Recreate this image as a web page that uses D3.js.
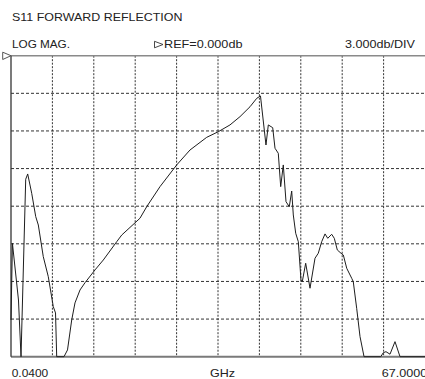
<!DOCTYPE html>
<html>
<head>
<meta charset="utf-8">
<script src="https://cdn.jsdelivr.net/npm/d3@7"></script>
<style>
  html, body { margin: 0; padding: 0; background: #fff; }
  svg { display: block; }
  text { font-family: "Liberation Sans", Arial, sans-serif; fill: #222; }
</style>
</head>
<body>
<svg id="chart" width="425" height="379"></svg>
<script>
// S11 sweep: frequency (GHz) and log magnitude (dB)
const freqGHz = [0.04, 0.27, 1.25, 1.66, 2.42, 2.74, 3.39, 4.04, 4.46, 5.26, 6.07, 6.88, 7.24, 7.43,
  8.61, 9.18, 9.86, 10.39, 11.20, 12.01, 13.63, 14.97, 17.14, 17.95, 20.90, 21.99, 24.14, 26.84,
  28.99, 31.69, 33.57, 35.46, 37.08, 38.70, 39.78, 40.39, 41.28, 41.66, 42.37, 42.74, 43.27, 43.66,
  44.08, 44.52, 45.05, 45.44, 45.70, 46.09, 46.51, 46.94, 47.15, 47.70, 48.40, 49.21, 49.74, 50.29,
  50.83, 51.27, 51.91, 52.33, 52.82, 53.41, 53.79, 54.34, 55.15, 55.40, 55.95, 56.49, 57.14, 59.84,
  60.26, 60.69, 61.34, 62.15, 62.96, 67.00];
const s11dB = [-21.07, -14.96, -19.48, -24.00, -9.85, -9.43, -10.97, -12.83, -13.50, -16.02, -17.62, -20.01, -20.51, -24.00,
  -24.00, -23.46, -21.07, -19.71, -18.68, -18.10, -17.08, -16.29, -14.83, -14.30, -12.96, -12.04, -10.44, -8.71,
  -7.52, -6.51, -6.06, -5.52, -4.86, -4.07, -3.40, -3.21, -7.12, -5.52, -5.74, -7.38, -7.78, -10.44,
  -8.71, -11.64, -12.04, -10.79, -12.70, -14.16, -14.83, -17.88, -18.02, -16.55, -18.54, -16.15, -15.75, -14.83,
  -14.21, -14.56, -14.24, -14.56, -15.49, -15.75, -15.89, -16.95, -17.75, -18.02, -20.14, -22.40, -24.00, -24.00,
  -23.68, -23.60, -23.80, -22.80, -24.00, -24.00];

// Display settings: 10 horizontal divisions, 8 vertical divisions at 3 dB each
const startGHz = 0.04, stopGHz = 67.0;
const refDb = 0, dbPerDiv = 3, vDivs = 8, hDivs = 10;
const titleText = "S11 FORWARD REFLECTION";
const formatText = "LOG MAG.";
const refText = "REF=0.000db";
const scaleText = "3.000db/DIV";
const startLabel = "0.0400", unitLabel = "GHz", stopLabel = "67.0000";

const svg = d3.select("#chart");
const L = 11, R = 425, T = 55.7, B = 356.7;

const x = d3.scaleLinear().domain([startGHz, stopGHz]).range([L, R]);
const y = d3.scaleLinear().domain([refDb - vDivs * dbPerDiv, refDb]).range([B, T]);

// Grid
const xGrid = d3.range(1, hDivs).map(k => startGHz + k * (stopGHz - startGHz) / hDivs);
const yGrid = d3.range(1, vDivs).map(k => refDb - k * dbPerDiv);

svg.append("g").selectAll("line").data(xGrid).join("line")
  .attr("x1", d => x(d)).attr("x2", d => x(d))
  .attr("y1", T).attr("y2", B)
  .attr("stroke", "#333").attr("stroke-width", 1)
  .attr("stroke-dasharray", "2,1.5");

svg.append("g").selectAll("line").data(yGrid).join("line")
  .attr("x1", L).attr("x2", R)
  .attr("y1", d => y(d)).attr("y2", d => y(d))
  .attr("stroke", "#333").attr("stroke-width", 1)
  .attr("stroke-dasharray", "3,2");

// Frame
svg.append("line").attr("x1", L).attr("x2", R).attr("y1", T).attr("y2", T)
  .attr("stroke", "#8a8a8a").attr("stroke-width", 1.5);
svg.append("line").attr("x1", L).attr("x2", R).attr("y1", B).attr("y2", B)
  .attr("stroke", "#7a7a7a").attr("stroke-width", 2);
svg.append("line").attr("x1", L).attr("x2", L).attr("y1", T).attr("y2", B)
  .attr("stroke", "#333").attr("stroke-width", 1.3);

// Trace
const pts = freqGHz.map((f, i) => [f, s11dB[i]]);
svg.append("path")
  .datum(pts)
  .attr("fill", "none")
  .attr("stroke", "#1e1e1e")
  .attr("stroke-width", 1)
  .attr("stroke-linejoin", "round")
  .attr("d", d3.line().x(d => x(d[0])).y(d => y(d[1])));

// Reference marker on the left edge
const ry = y(refDb);
svg.append("path")
  .attr("d", `M2.7,${ry - 3.5} L11,${ry} L2.7,${ry + 3.8} Z`)
  .attr("fill", "#fff").attr("stroke", "#555").attr("stroke-width", 1);

// Annotations
function label(t, xx, yy, len) {
  svg.append("text").attr("x", xx).attr("y", yy)
    .attr("font-size", 10.5)
    .attr("textLength", len).attr("lengthAdjust", "spacingAndGlyphs")
    .text(t);
}
label(titleText, 12, 20.6, 170.5);
label(formatText, 12, 48.3, 58);
svg.append("path")
  .attr("d", "M154.5,41.3 L163,44.5 L154.5,47.8 Z")
  .attr("fill", "#fff").attr("stroke", "#333").attr("stroke-width", 0.9);
label(refText, 164, 48.3, 78.5);
label(scaleText, 345, 48.3, 70);
label(startLabel, 11.7, 376.5, 36.6);
label(unitLabel, 210, 376.5, 25);
label(stopLabel, 381.7, 376.5, 45.5);
</script>
</body>
</html>
